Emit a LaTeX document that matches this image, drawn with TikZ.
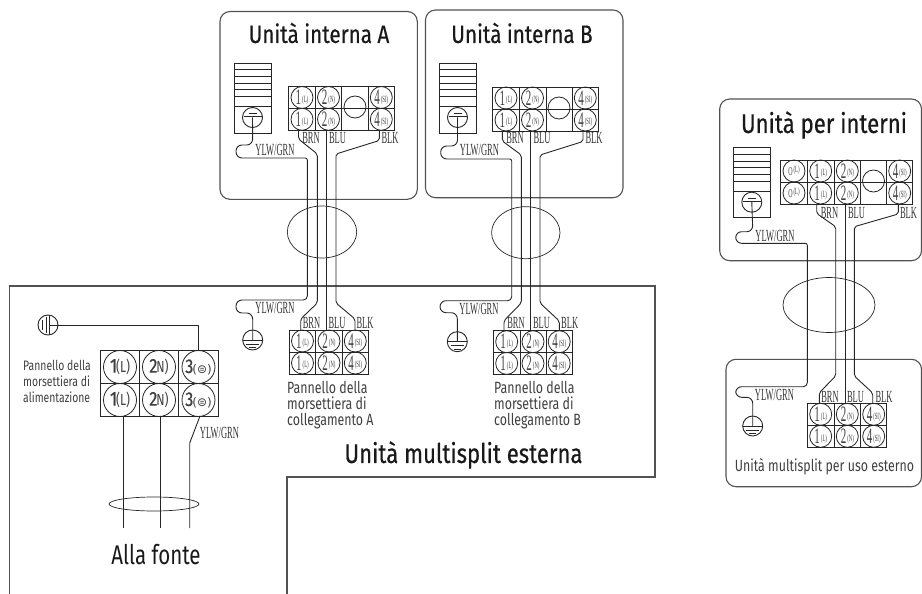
\documentclass[tikz,border=0pt]{standalone}
\usepackage{fontspec}
\setmainfont{Fira Sans}
\newfontfamily\ttlfont[FakeStretch=0.82,FakeBold=0.5]{Fira Sans}
\newfontfamily\txtfont[FakeStretch=0.76]{Fira Sans}
\newfontfamily\wirefont[FakeStretch=0.5]{Liberation Serif}
\newfontfamily\symfont{DejaVu Sans}
\tikzset{
  wire/.style={line width=.9pt,black!85,line join=round},
  frame/.style={line width=1.1pt,black!68},
  unitbox/.style={frame,rounded corners=10pt},
  blockbox/.style={draw,line width=.9pt,black!85,inner sep=0pt,outer sep=0pt,anchor=north west},
  term/.style={circle,draw,line width=.8pt,black!85,inner sep=0pt,outer sep=0pt,minimum size=#1,text=black!75},
  term/.default=22pt,
  earth/.style={circle,draw,line width=.9pt,black!85,inner sep=0pt,outer sep=0pt,minimum size=20pt},
  bundle/.style={ellipse,draw,line width=.7pt,black!85,inner sep=0pt},
  wlabel/.style={inner sep=0pt,text=black!80,font=\wirefont\fontsize{17}{17}\selectfont},
  title/.style={inner sep=0pt,text=black!90,font=\ttlfont\fontsize{25.2}{28}\selectfont},
  note/.style={inner sep=0pt,text=black!75,align=left,anchor=north west,font=\txtfont\fontsize{16.3}{16}\selectfont},
}
\usetikzlibrary{shapes.geometric}
% small terminal label: digit + tiny tag
\newcommand{\tlab}[2]{\makebox[0pt]{\wirefont\fontsize{22}{22}\selectfont #1\hspace{1pt}\raisebox{2.5pt}{\fontsize{9.5}{9.5}\selectfont #2}}}
% terminal column: name, x centre, y centre top, y centre bottom, digit, tag
\newcommand{\tcol}[6]{%
  \node[term] (#1t) at (#2,#3) {\tlab{#5}{#6}};
  \node[term] (#1b) at (#2,#4) {\tlab{#5}{#6}};}
% block frame: name, x0, y0, w, h
\newcommand{\blk}[5]{%
  \node[blockbox,minimum width=#4pt,minimum height=#5pt] (#1) at (#2,#3) {};
  \draw[wire] (#1.west) -- (#1.east);}
% vent with indoor earth: name, x0, y0 ; earth node is #1e
\newcommand{\vent}[3]{%
  \node[blockbox,minimum width=37pt,minimum height=70pt] (#1) at (#2,#3) {};
  \foreach \k in {1,...,5}{\draw[wire] (#2,#3+6.67*\k) -- (#2+37,#3+6.67*\k);}
  \draw[wire] (#2,#3+43.3) -- (#2+37,#3+43.3);
  \node[earth] (#1e) at (#2+18.5,#3+54.5) {};
  \draw[wire] (#2+14.5,#3+50.5) -- (#2+22.5,#3+50.5);
  \draw[wire] (#2+9.5,#3+53.8) -- (#2+27.5,#3+53.8);}
% outdoor earth: name, x, y
\newcommand{\outearth}[3]{%
  \node[earth] (#1) at (#2,#3) {};
  \draw[wire] (#2-10,#3) -- (#2+10,#3);
  \draw[wire] (#2-6.5,#3+4) -- (#2+6.5,#3+4);
  \draw[wire] (#2-3.5,#3+7.5) -- (#2+3.5,#3+7.5);}
\begin{document}
\begin{tikzpicture}[x=1pt,y=-1pt]
\useasboundingbox (0,0) rectangle (922,594);
% ---------- frames
\draw[unitbox] (220,11.5) rectangle (417.3,199.3);
\draw[unitbox] (425.5,10) rectangle (623,197.7);
\draw[unitbox] (719.7,99) rectangle (921.5,260.7);
\draw[unitbox] (726,359.3) rectangle (921.5,486.7);
\draw[frame] (9.5,594) -- (9.5,286) -- (655,286) -- (655,477) -- (287,477) -- (287,594);
% ---------- titles
\node[title] (tA) at (319,33) {Unità interna A};
\node[title] (tB) at (522,33) {Unità interna B};
\node[title,font=\ttlfont\fontsize{27}{30}\selectfont] (tC) at (824,125) {Unità per interni};
\node[title,font=\ttlfont\fontsize{27}{30}\selectfont] (tM) at (463.5,455) {Unità multisplit esterna};
\node[title,font=\txtfont\fontsize{27}{28}\selectfont] (tF) at (156,555) {Alla fonte};
% ---------- unit A indoor
\vent{va}{234}{63}
\blk{ia}{288.7}{86.7}{106}{43.3}
\draw[wire] (315,86.7)--(315,130) (341.7,86.7)--(341.7,130) (368,86.7)--(368,130);
\tcol{ia1}{302}{97.5}{119.3}{1}{(L)}
\tcol{ia2}{328.5}{97.5}{119.3}{2}{(N)}
\node[term] (iac) at (355,107) {};
\tcol{ia4}{381.3}{97.5}{119.3}{4}{(SI)}
% ---------- unit B indoor
\vent{vb}{439}{63}
\blk{ib}{492.7}{87}{106}{44}
\draw[wire] (519,87)--(519,131) (546,87)--(546,131) (572,87)--(572,131);
\tcol{ib1}{506}{98}{120}{1}{(L)}
\tcol{ib2}{532.5}{98}{120}{2}{(N)}
\node[term] (ibc) at (559,108) {};
\tcol{ib4}{585.3}{98}{120}{4}{(SI)}
% ---------- unit C indoor
\vent{vc}{733.3}{147.7}
\blk{ic}{780.7}{160}{132}{44}
\draw[wire] (807.3,160)--(807.3,204) (834,160)--(834,204) (860.7,160)--(860.7,204) (886.7,160)--(886.7,204);
\tcol{ic0}{794}{171}{193}{\fontsize{12}{12}\selectfont O}{(L)}
\tcol{ic1}{820.7}{171}{193}{1}{(L)}
\tcol{ic2}{847.3}{171}{193}{2}{(N)}
\node[term] (icc) at (873.5,181) {};
\tcol{ic4}{899.7}{171}{193}{4}{(SI)}
% ---------- outdoor block A
\blk{oa}{289.3}{330}{79}{44}
\draw[wire] (315.7,330)--(315.7,374) (342,330)--(342,374);
\tcol{oa1}{302.5}{341}{363}{1}{(L)}
\tcol{oa2}{329}{341}{363}{2}{(N)}
\tcol{oa4}{355.3}{341}{363}{4}{(SI)}
% ---------- outdoor block B
\blk{ob}{493.3}{330.7}{79}{43.6}
\draw[wire] (520,330.7)--(520,374.3) (546,330.7)--(546,374.3);
\tcol{ob1}{506.7}{341.7}{363.4}{1}{(L)}
\tcol{ob2}{533}{341.7}{363.4}{2}{(N)}
\tcol{ob4}{559.2}{341.7}{363.4}{4}{(SI)}
% ---------- outdoor block C
\blk{oc}{807.3}{403.3}{79.4}{44}
\draw[wire] (834,403.3)--(834,447.3) (860.7,403.3)--(860.7,447.3);
\tcol{oc1}{820.7}{414.3}{436.3}{1}{(L)}
\tcol{oc2}{847.3}{414.3}{436.3}{2}{(N)}
\tcol{oc4}{873.7}{414.3}{436.3}{4}{(SI)}
% ---------- power block
\blk{pw}{100}{350.7}{118}{65.3}
\draw[wire] (139.3,350.7)--(139.3,416) (178.7,350.7)--(178.7,416);
\newcommand{\plab}[3]{\makebox[0pt]{\ttlfont\fontsize{20}{20}\selectfont #1\hspace{-1pt}\txtfont\fontsize{16}{16}\selectfont #2\symfont\fontsize{12}{12}\selectfont #3}}
\node[term=33pt] (p1t) at (120,367) {\plab{1}{(L)}{}};
\node[term=33pt] (p1b) at (120,400) {\plab{1}{(L)}{}};
\node[term=33pt] (p2t) at (159,367) {\plab{2}{N)}{}};
\node[term=33pt] (p2b) at (159,400) {\plab{2}{N)}{}};
\node[term=33pt] (p3t) at (198.5,367) {\plab{3}{}{(⊜)}};
\node[term=33pt] (p3b) at (198.5,400) {\plab{3}{}{(⊜)}};
% ---------- earths
\outearth{ea}{252.7}{340}
\outearth{eb}{457.3}{341.7}
\outearth{ec}{752.7}{426}
\node[earth] (ep) at (48,325) {};
\draw[wire] (42.7,320)--(42.7,330) (46,317)--(46,333) (49.5,315)--(49.5,335);
% ---------- end points
\coordinate (aBRN) at (298.5,130); \coordinate (aBLU) at (326.7,130); \coordinate (aBLK) at (379.3,130);
\coordinate (oaBRN) at (300.7,330); \coordinate (oaBLU) at (326.7,330); \coordinate (oaBLK) at (355,330);
\coordinate (bBRN) at (502.3,131); \coordinate (bBLU) at (530.8,131); \coordinate (bBLK) at (583,131);
\coordinate (obBRN) at (504,330.7); \coordinate (obBLU) at (530.8,330.7); \coordinate (obBLK) at (559.3,330.7);
\coordinate (cBRN) at (816.7,204); \coordinate (cBLU) at (845.7,204); \coordinate (cBLK) at (898.3,204);
\coordinate (ocBRN) at (819.3,403.3); \coordinate (ocBLU) at (845.7,403.3); \coordinate (ocBLK) at (872.7,403.3);
% ---------- signal wires A
\draw[wire,rounded corners=2pt] (aBRN) -- (298.5,139) -- (317.3,154) -- (317.3,303) -- (300.7,319) -- (oaBRN);
\draw[wire] (aBLU) -- (oaBLU);
\draw[wire,rounded corners=2pt] (aBLK) -- (379.3,140.5) -- (336,154) -- (336,303) -- (355,319) -- (oaBLK);
% signal wires B
\draw[wire,rounded corners=2pt] (bBRN) -- (502.3,141) -- (521.3,155) -- (521.3,303) -- (504,320.7) -- (obBRN);
\draw[wire] (bBLU) -- (obBLU);
\draw[wire,rounded corners=2pt] (bBLK) -- (583,141.5) -- (540,155) -- (540,303) -- (559.3,321) -- (obBLK);
% signal wires C
\draw[wire,rounded corners=2pt] (cBRN) -- (816.7,213.5) -- (835.7,226.7) -- (835.7,376) -- (819.3,392.7) -- (ocBRN);
\draw[wire] (cBLU) -- (ocBLU);
\draw[wire,rounded corners=2pt] (cBLK) -- (898.3,214) -- (854.3,226.7) -- (854.3,376) -- (872.7,393) -- (ocBLK);
% ---------- earth wires
\draw[wire,rounded corners=6pt] (vae.center) -- (252.7,145) -- (236,145) -- (236,158) [rounded corners=2pt] -- (307.3,158) [rounded corners=4pt] -- (307.3,300) [rounded corners=6pt] -- (236,300) -- (236,313) -- (252.7,313) [sharp corners] -- (ea.center);
\draw[wire,rounded corners=6pt] (vbe.center) -- (457.5,146) -- (440.7,146) -- (440.7,159) [rounded corners=2pt] -- (511.7,159) [rounded corners=4pt] -- (511.7,300.7) [rounded corners=6pt] -- (440,300.7) -- (440,312.7) -- (457.3,312.7) [sharp corners] -- (eb.center);
\draw[wire,rounded corners=6pt] (vce.center) -- (752.8,231.7) -- (735.7,231.7) -- (735.7,243.3) [rounded corners=2pt] -- (807.3,243.3) [rounded corners=4pt] -- (807.3,386.7) [rounded corners=6pt] -- (735.7,386.7) -- (735.7,397.3) -- (752.7,397.3) [sharp corners] -- (ec.center);
% ---------- mains wires
\coordinate (m1) at (123.7,528); \coordinate (m2) at (160.3,528); \coordinate (m3) at (189.7,528);
\draw[wire] (123.7,416) -- (m1);
\draw[wire] (160.3,416) -- (m2);
\draw[wire] (200,416) -- (189.7,443) -- (m3);
\draw[wire] (49.5,325) -- (198,325) -- (198,350.7);
% ---------- bundles
\node[bundle,minimum width=69.4pt,minimum height=52pt] (ba) at (322,232) {};
\node[bundle,minimum width=68.4pt,minimum height=52pt] (bb) at (525.8,232.7) {};
\node[bundle,minimum width=92pt,minimum height=55pt] (bc) at (829,305) {};
\node[bundle,minimum width=90pt,minimum height=14pt] (bp) at (154,504) {};
% ---------- wire labels
\node[wlabel] (la1) at (275,150) {YLW/GRN};
\node[wlabel] (la2) at (311,138) {BRN};
\node[wlabel] (la3) at (337.5,138) {BLU};
\node[wlabel] (la4) at (390,138) {BLK};
\node[wlabel] (lb1) at (479.5,150) {YLW/GRN};
\node[wlabel] (lb2) at (515,138) {BRN};
\node[wlabel] (lb3) at (542,138) {BLU};
\node[wlabel] (lb4) at (594,138) {BLK};
\node[wlabel] (lc1) at (775,235.7) {YLW/GRN};
\node[wlabel] (lc2) at (829.5,212.7) {BRN};
\node[wlabel] (lc3) at (856.5,212.7) {BLU};
\node[wlabel] (lc4) at (908.5,212.7) {BLK};
\node[wlabel] (oa1l) at (275,308) {YLW/GRN};
\node[wlabel] (oa2l) at (311.5,323) {BRN};
\node[wlabel] (oa3l) at (337,323) {BLU};
\node[wlabel] (oa4l) at (365,323) {BLK};
\node[wlabel] (ob1l) at (479,309) {YLW/GRN};
\node[wlabel] (ob2l) at (516,323) {BRN};
\node[wlabel] (ob3l) at (541.5,323) {BLU};
\node[wlabel] (ob4l) at (569.7,323) {BLK};
\node[wlabel] (oc1l) at (774.5,395) {YLW/GRN};
\node[wlabel] (oc2l) at (830,396.7) {BRN};
\node[wlabel] (oc3l) at (855.5,396.7) {BLU};
\node[wlabel] (oc4l) at (884,396.7) {BLK};
\node[wlabel] (pl) at (219.5,432.7) {YLW/GRN};
% ---------- notes
\node[note] (na) at (287,381) {Pannello della\\[-0.2pt]morsettiera di\\[-0.2pt]collegamento A};
\node[note] (nb) at (494,381) {Pannello della\\[-0.2pt]morsettiera di\\[-0.2pt]collegamento B};
\node[note,font=\txtfont\fontsize{13.7}{16}\selectfont] (np) at (23,360) {Pannello della\\morsettiera di\\alimentazione};
\node[inner sep=0pt,text=black!75,font=\txtfont\fontsize{16.3}{16}\selectfont] (nc) at (824.5,466.7) {Unità multisplit per uso esterno};
\end{tikzpicture}
\end{document}
